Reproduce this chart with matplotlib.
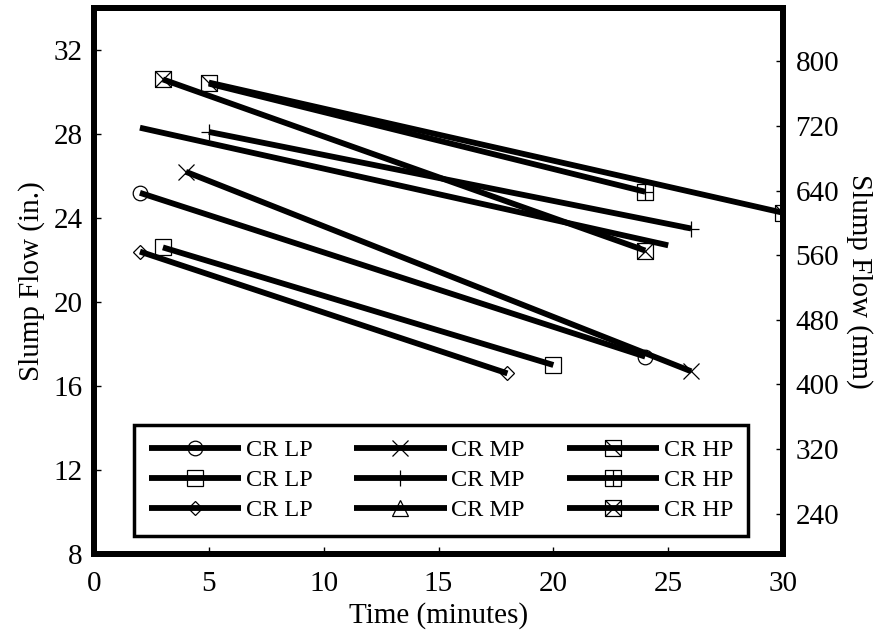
import numpy as np
import matplotlib
matplotlib.use('Agg')
import matplotlib.pyplot as plt
from matplotlib.path import Path
from matplotlib.lines import Line2D

plt.rcParams['font.family'] = ['Liberation Serif', 'DejaVu Serif']

# series: (time in minutes, slump flow in inches)
lp_circle_t = [2, 24]
lp_circle_y = [25.2, 17.4]
lp_square_t = [3, 20]
lp_square_y = [22.6, 17.0]
lp_diamond_t = [2, 18]
lp_diamond_y = [22.4, 16.6]
mp_x_t = [4, 26]
mp_x_y = [26.2, 16.7]
mp_plus_t = [5, 26]
mp_plus_y = [28.1, 23.5]
mp_tri_t = [2, 25]
mp_tri_y = [28.3, 22.7]
hp_diag_t = [5, 30]
hp_diag_y = [30.45, 24.25]
hp_grid_t = [5, 24]
hp_grid_y = [30.4, 25.25]
hp_cross_t = [3, 24]
hp_cross_y = [30.6, 22.45]

x_ticks = [0, 5, 10, 15, 20, 25, 30]
in_ticks = [8, 12, 16, 20, 24, 28, 32]
mm_ticks = [240, 320, 400, 480, 560, 640, 720, 800]
mm_limits = (190, 866)

# boxed markers
M, L, C = Path.MOVETO, Path.LINETO, Path.CLOSEPOLY
box = [(-1, -1), (1, -1), (1, 1), (-1, 1), (-1, -1)]
box_codes = [M, L, L, L, C]
box_diag = Path(box + [(-1, 1), (1, -1)], box_codes + [M, L])
box_plus = Path(box + [(0, -1), (0, 1), (-1, 0), (1, 0)], box_codes + [M, L, M, L])
box_cross = Path(box + [(-1, 1), (1, -1), (-1, -1), (1, 1)], box_codes + [M, L, M, L])

series = [
    (lp_circle_t, lp_circle_y, 'o', 10.5, 'CR LP', None),
    (lp_square_t, lp_square_y, 's', 11, 'CR LP', None),
    (lp_diamond_t, lp_diamond_y, 'D', 7.5, 'CR LP', None),
    (mp_x_t, mp_x_y, 'x', 12, 'CR MP', None),
    (mp_plus_t, mp_plus_y, '+', 12, 'CR MP', None),
    (mp_tri_t, mp_tri_y, '^', 11, 'CR MP', []),
    (hp_grid_t, hp_grid_y, box_plus, 11.5, 'CR HP', [1]),
    (hp_diag_t, hp_diag_y, box_diag, 11.5, 'CR HP', None),
    (hp_cross_t, hp_cross_y, box_cross, 11.5, 'CR HP', None),
]
legend_order = [0, 1, 2, 3, 4, 5, 7, 6, 8]

fig = plt.figure(figsize=(8.81, 6.42), dpi=100)
ax = fig.add_axes([0.1067, 0.1371, 0.7821, 0.8504])
ax2 = ax.twinx()

LW = 4.2
handles = []
for t, y, mk, ms, lab, every in series:
    ax.plot(t, y, color='black', lw=LW, marker=mk, ms=ms, mfc='none',
            mec='black', mew=0.9, markevery=every, solid_capstyle='butt')
    handles.append(Line2D([], [], color='black', lw=LW, marker=mk, ms=ms,
                          mfc='none', mec='black', mew=0.9, label=lab,
                          solid_capstyle='butt'))
handles = [handles[i] for i in legend_order]

ax.set_xlim(0, 30)
ax.set_ylim(8, 34)
ax.set_xticks(x_ticks)
ax.set_yticks(in_ticks)
ax2.set_ylim(*mm_limits)
ax2.set_yticks(mm_ticks)

for a in (ax, ax2):
    for s in a.spines.values():
        s.set_linewidth(4.3)
ax.tick_params(axis='y', direction='in', length=5, width=1, labelsize=21, pad=8)
ax.tick_params(axis='x', direction='in', length=5, width=1, labelsize=21, pad=12)
ax2.tick_params(direction='in', length=5, width=1, labelsize=21, pad=9)

ax.set_xlabel('Time (minutes)', fontsize=21, labelpad=4)
ax.set_ylabel('Slump Flow (in.)', fontsize=21, labelpad=6)
ax2.set_ylabel('Slump Flow (mm)', fontsize=21, rotation=270, labelpad=24)

leg = ax.legend(handles=handles, ncol=3, loc='lower left', mode='expand',
                bbox_to_anchor=(0.058, 0.033, 0.891, 0.203), borderaxespad=0,
                fontsize=17.5, handlelength=3.8, handletextpad=0.2,
                labelspacing=0.33, borderpad=0.6, numpoints=1, fancybox=False,
                edgecolor='black', framealpha=1)
leg.get_frame().set_linewidth(2.5)

fig.savefig('out.png', dpi=100)
